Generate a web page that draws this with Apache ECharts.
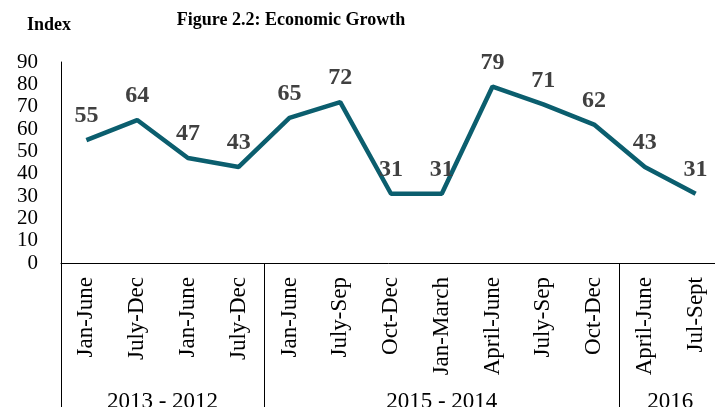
<!DOCTYPE html>
<html>
<head>
<meta charset="utf-8">
<script src="https://cdn.jsdelivr.net/npm/echarts@6/dist/echarts.min.js"></script>
<style>
  html, body { margin: 0; padding: 0; background: #fff; }
  #chart { width: 715px; height: 407px; }
</style>
</head>
<body>
<div id="chart"></div>
<script>
// periods shown on the x axis
const periods = ['Jan-June', 'July-Dec', 'Jan-June', 'July-Dec',
    'Jan-June', 'July-Sep', 'Oct-Dec', 'Jan-March', 'April-June', 'July-Sep', 'Oct-Dec',
    'April-June', 'Jul-Sept']
const indexValues = [55, 64, 47, 43, 65, 72, 31, 31, 79, 71, 62, 43, 31]

// year groups under the periods: [label, first index, last index]
const groupNames = ['2013 - 2012', '2015 - 2014', '2016']
const groupStart = [0, 4, 11]
const groupEnd = [3, 10, 12]

const serif = '"Liberation Serif", "DejaVu Serif", serif'

var chart = echarts.init(document.getElementById('chart'))
var option = {
    animation: false,
    title: {
        text: 'Figure 2.2: Economic Growth',
        left: 286,
        textAlign: 'center',
        top: 6,
        textStyle: { fontFamily: serif, fontWeight: 'bold', fontSize: 18, color: '#000' }
    },
    grid: {
        left: 61,
        top: 62,
        width: 660,
        bottom: 144,
        outerBoundsMode: 'none'
    },
    xAxis: {
        type: 'category',
        data: periods,
        boundaryGap: true,
        axisLine: { lineStyle: { color: '#000', width: 1 } },
        axisTick: {
            show: true,
            length: 150,
            // only mark where a year group starts
            interval: function (index) {
                return groupStart.indexOf(index) !== -1
            },
            lineStyle: { color: '#000', width: 1 }
        },
        axisLabel: {
            interval: 0,
            rotate: 90,
            margin: 14,
            fontFamily: serif,
            fontSize: 23,
            color: '#000'
        }
    },
    yAxis: {
        type: 'value',
        min: 0,
        max: 90,
        interval: 10,
        name: 'Index',
        nameLocation: 'end',
        nameGap: 0,
        nameTextStyle: {
            fontFamily: serif, fontWeight: 'bold', fontSize: 18, color: '#000',
            align: 'left', verticalAlign: 'top', padding: [-46, 0, 0, -34]
        },
        splitLine: { show: false },
        axisTick: { show: false },
        axisLine: { show: true, lineStyle: { color: '#000', width: 1 } },
        axisLabel: { fontFamily: serif, fontSize: 21, color: '#000', margin: 23 }
    },
    series: [
        {
            name: 'Index',
            type: 'line',
            data: indexValues,
            symbol: 'circle',
            symbolSize: 2,
            showSymbol: true,
            itemStyle: { color: 'rgba(0,0,0,0)', borderWidth: 0 },
            lineStyle: { color: '#0b5e6e', width: 4.5 },
            label: {
                show: true,
                position: 'top',
                distance: 11,
                fontFamily: serif,
                fontWeight: 'bold',
                fontSize: 24,
                color: '#404040'
            }
        }
    ]
}
chart.setOption(option)

// year group labels centred under their periods
let groupText = groupNames.map((name, i) => {
    const x0 = chart.convertToPixel({ xAxisIndex: 0 }, groupStart[i])
    const x1 = chart.convertToPixel({ xAxisIndex: 0 }, groupEnd[i])
    return {
        type: 'text',
        x: (x0 + x1) / 2,
        y: 390,
        style: {
            text: name,
            fontFamily: serif,
            fontSize: 23,
            fill: '#000',
            align: 'center',
            verticalAlign: 'top'
        }
    }
})
chart.setOption({ graphic: groupText })
</script>
</body>
</html>
